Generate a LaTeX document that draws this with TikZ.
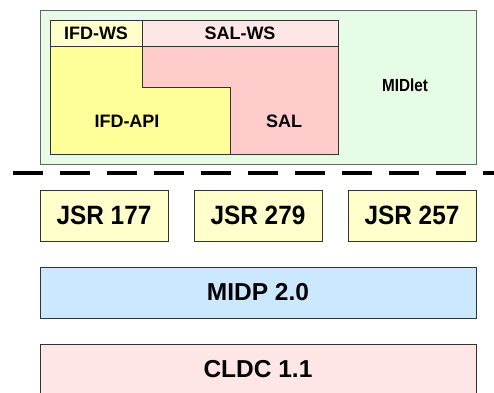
\documentclass[tikz,border=0pt]{standalone}
\usepackage{fontspec}
\setmainfont{Liberation Sans}
\newfontfamily\narrowsans[FakeStretch=0.92]{Liberation Sans}
\newfontfamily\narrowersans[FakeStretch=0.87]{Liberation Sans}
\definecolor{midletfill}{HTML}{E6FCE6}
\definecolor{wsyellow}{HTML}{FFFFCC}
\definecolor{wspink}{HTML}{FFE6E6}
\definecolor{apiyellow}{HTML}{FFFF99}
\definecolor{salpink}{HTML}{FFCCCC}
\definecolor{midpblue}{HTML}{CCE8FF}
\definecolor{edge}{HTML}{333333}
\begin{document}
\begin{tikzpicture}[x=1pt,y=-1pt,
  box/.style={draw=edge,line width=1pt,rectangle,inner sep=0pt},
  bigtxt/.style={font=\bfseries\fontsize{24.5}{28}\selectfont},
  jsrtxt/.style={font=\narrowsans\bfseries\fontsize{26.5}{30}\selectfont},
  midtxt/.style={font=\bfseries\fontsize{18}{21}\selectfont},
  smalltxt/.style={font=\narrowersans\bfseries\fontsize{17.5}{20}\selectfont}]
\useasboundingbox (0,0) rectangle (494,392);
\clip (0,0) rectangle (494,392);
% MIDlet container
\node[box,draw=gray!80!black,fill=midletfill,minimum width=436pt,minimum height=154pt] (midlet) at (258,87) {};
\node[smalltxt] (midlettxt) at (405,85) {MIDlet};
% L-shaped IFD-API and SAL
\fill[apiyellow] (50,46) -- (142,46) -- (142,87) -- (230,87) -- (230,154) -- (50,154) -- cycle;
\fill[salpink] (142,46) -- (338,46) -- (338,154) -- (230,154) -- (230,87) -- (142,87) -- cycle;
\draw[edge,line width=1pt] (142,46) -- (142,87) -- (230,87) -- (230,154);
\draw[edge,line width=1pt] (50,20) rectangle (338,154);
\node[midtxt] (ifdapi) at (127,121) {IFD-API};
\node[midtxt] (sal) at (284,121) {SAL};
% WS row
\node[box,fill=wsyellow,minimum width=92pt,minimum height=26pt] (ifdws) at (96,33) {};
\node[midtxt] at (ifdws) {IFD-WS};
\node[box,fill=wspink,minimum width=196pt,minimum height=26pt] (salws) at (240,33) {};
\node[midtxt] at (salws) {SAL-WS};
% dashed separator
\coordinate (dl) at (13,173);
\coordinate (dr) at (494,173);
\draw[black,line width=4pt,dash pattern=on 30pt off 17pt] (dl) -- (dr);
% JSR boxes
\node[box,fill=wsyellow,minimum width=128pt,minimum height=51pt,jsrtxt] (jsr177) at (104,215.5) {JSR 177};
\node[box,fill=wsyellow,minimum width=128pt,minimum height=51pt,jsrtxt] (jsr279) at (258,215.5) {JSR 279};
\node[box,fill=wsyellow,minimum width=128pt,minimum height=51pt,jsrtxt] (jsr257) at (412,215.5) {JSR 257};
% MIDP
\node[box,fill=midpblue,minimum width=436pt,minimum height=51pt,bigtxt] (midp) at (258,292.5) {MIDP 2.0};
% CLDC
\node[box,fill=wspink,minimum width=436pt,minimum height=52pt] (cldc) at (258,370) {};
\node[bigtxt] (cldctxt) at (258,369) {CLDC 1.1};
\end{tikzpicture}
\end{document}
